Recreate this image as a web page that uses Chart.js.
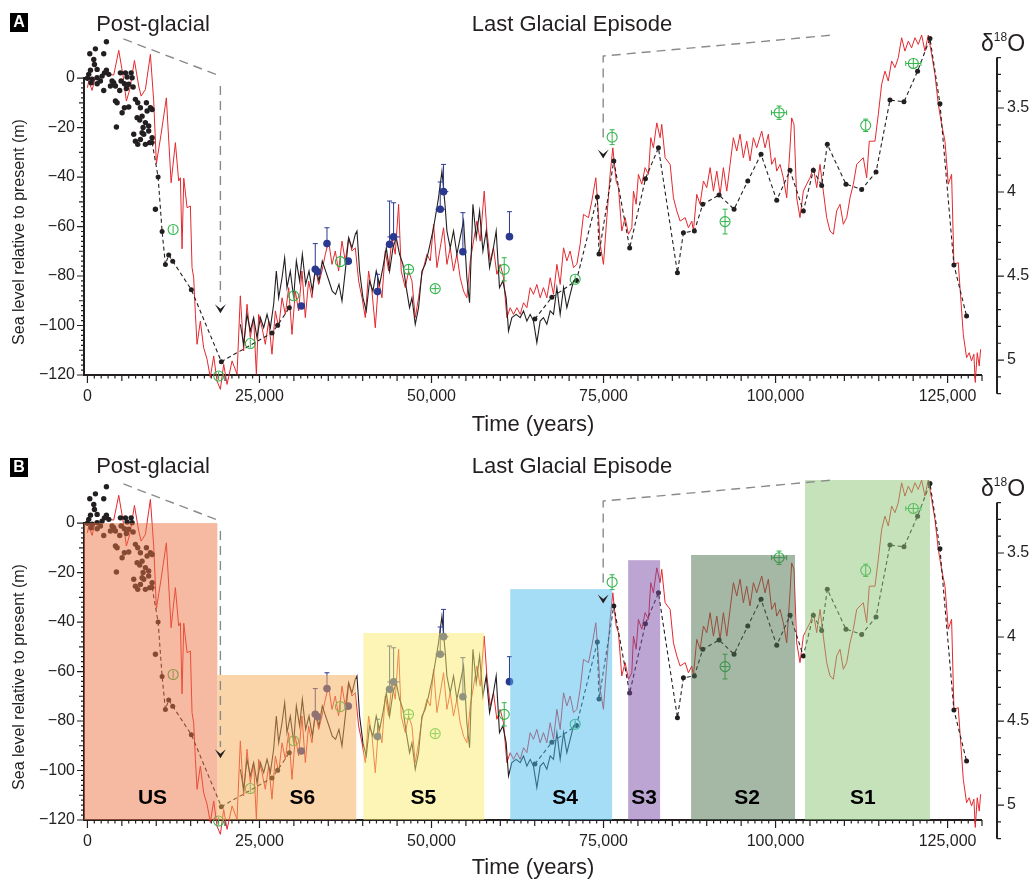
<!DOCTYPE html>
<html>
<head>
<meta charset="utf-8">
<script src="https://cdn.jsdelivr.net/npm/chart.js@4.4.0/dist/chart.umd.min.js"></script>
<style>
  body { margin: 0; background: #fff; width: 1035px; height: 881px; overflow: hidden; position: relative; }
  #wrapA { position: absolute; left: 0; top: 0; }
  #wrapB { position: absolute; left: 0; top: 445px; }
</style>
</head>
<body>
<div id="wrapA"><canvas id="chartA" width="1035" height="440"></canvas></div>
<div id="wrapB"><canvas id="chartB" width="1035" height="436"></canvas></div>
<script>
// red sea-level curve (years before present, metres)
const redYears = [
  0,190,680,1160,1640,2130,2470,3100,3820,4550,
  5180,5660,6150,6830,7450,7800,8420,9150,9630,10020,
  10700,11470,12160,12780,13260,13510,13750,14000,14480,14960,
  15200,15440,15690,15930,16410,16890,17380,17860,18350,18830,
  19320,19800,20290,21020,21740,22220,22700,23190,23670,24150,
  24550,24880,25370,25850,26340,26820,27310,27790,28280,28760,
  29240,29730,30210,30690,31180,31660,32140,32630,33110,33600,
  34080,34570,35050,35540,36020,36500,36990,37470,37960,38440,
  38930,39410,39900,40380,40860,41350,41830,42310,42800,43280,
  43770,44250,44730,45220,45600,46190,46670,47160,47640,48120,
  48610,49340,49820,50300,50790,51270,51750,52240,52720,53200,
  53690,54170,54660,55140,55630,56110,56600,57080,57660,58050,
  58530,59010,59500,59980,60470,60950,61440,61920,62410,62890,
  63370,63860,64340,64820,65310,65790,66270,66760,67250,67730,
  68220,68700,69190,69670,70150,70640,71120,71600,72090,72810,
  73300,73880,74260,74510,74990,75480,75960,76350,76830,77170,
  77650,78140,78620,79110,79350,79740,80070,80560,81040,81530,
  81870,82250,82740,83220,83460,83950,84680,85160,85650,86130,
  86860,87340,87830,88060,88550,89030,89520,90000,90490,90970,
  91460,91940,92420,92910,93390,93870,94360,94840,95320,95810,
  96290,96780,97260,97990,98470,98950,99440,99920,100170,100650,
  101130,101620,102100,102340,102680,103070,103550,104040,104520,105010,
  105490,105980,106460,106940,107430,107910,108400,108880,109370,109850,
  110340,110820,111300,111790,112270,112750,113240,113620,114450,114930,
  115420,115900,116380,116870,117350,117830,118320,118800,119290,119770,
  120260,120740,121230,121710,122190,122680,123160,123650,124130,124620,
  125100,125580,125920,126550,127280,127760,128140,128480,128820,129020,
  129310,129600,129800
];
const redLevels = [
  -3.9,-1.2,-5,0.8,-0.5,0.8,2.1,1.5,1.2,11.2,
  0.8,-9.3,-4.6,7.1,-3.2,-7.3,-4.6,9.6,-9.3,-34.6,
  -22.7,-8,-42.3,-26.1,-41.6,-40.3,-69,-40.5,-52.4,-51.7,
  -76.6,-80.7,-95.5,-107.6,-98.2,-109,-113.6,-121,-112.3,-122.4,
  -125.8,-115.7,-123.8,-114.3,-119.7,-88,-110.3,-91.4,-104.9,-96.8,
  -119.7,-95.5,-100.9,-107.6,-98.2,-111.6,-94.1,-100.9,-88.8,-95.5,
  -84.7,-103.6,-86.1,-94.1,-78,-96.8,-82,-88.8,-76.6,-83.4,
  -78,-71.2,-65.9,-75.3,-69.9,-78,-65.9,-73.9,-64.5,-69.9,
  -68.6,-82,-88.8,-96.8,-78,-86.1,-100.9,-82,-88.8,-69.9,
  -78,-64.5,-71.2,-51,-78,-84.7,-78,-82,-96.8,-88.8,
  -79.3,-71.2,-73.9,-59.1,-76.6,-68.6,-60.5,-75.3,-68.6,-78,
  -71.2,-80.7,-86.1,-88.8,-73.9,-65.9,-57.8,-65.9,-45.7,-61.8,
  -73.9,-68.6,-79.3,-75.3,-80.7,-96.8,-92.8,-95.5,-92.8,-95.5,
  -90.8,-92.8,-84.7,-87.4,-83.4,-88.8,-84.7,-88.8,-80.7,-87.4,
  -75.3,-83.4,-68.6,-73.9,-69.9,-76.6,-75.3,-67.2,-55.1,-56.4,
  -49.7,-40.3,-55.1,-67.2,-75.3,-56.4,-38.9,-28.2,-41.6,-44.3,
  -61.8,-56.4,-63.1,-60.5,-45.7,-51,-38.9,-42.9,-36.2,-38.9,
  -24.1,-28.2,-18.1,-24.1,-18.7,-32.2,-34.9,-48.4,-53.7,-57.8,
  -56.4,-60.5,-57.8,-61.8,-47,-51,-41.6,-44.3,-36.2,-45.7,
  -37.6,-47,-36.2,-45.7,-34.9,-24.1,-29.5,-22.7,-32.2,-25.5,
  -33.5,-24.1,-28.2,-21.4,-28.2,-22.7,-34.9,-32.2,-37.6,-34.9,
  -40.3,-48.4,-28.2,-16.1,-18.7,-48.4,-56.4,-45.7,-42.9,-40.3,
  -36.2,-44.3,-34.9,-45.7,-56.4,-61.8,-63.1,-53.7,-51,-59.1,
  -56.4,-48.4,-42.9,-34.9,-33.5,-32.2,-40.3,-25.5,-25.5,-14.7,
  -2.5,2.8,-1.2,6.9,4.2,8.2,16.3,10.9,14.9,12.2,
  16.3,13.6,17.4,10.9,17.4,9.6,1.5,-10.6,-18.7,-25.5,
  -42.9,-38.9,-75.3,-74.6,-103.6,-113,-111,-114.3,-111.6,-123,
  -111,-116.4,-109.6
];

// black sea-level curve
const blackYears = [
  22220,22700,23190,23670,24150,24640,25130,25610,26100,26580,
  27060,27450,27790,28280,28660,29000,29480,29970,30360,30840,
  31230,31710,32200,32680,33160,33650,34130,34620,35100,35580,
  36060,36550,36990,37470,37960,38440,38930,39170,39550,40040,
  40520,41000,41490,41970,42460,42940,43430,43910,44400,44880,
  45360,45850,46330,46810,47160,47640,48120,48610,49090,49570,
  50300,51020,51520,52000,52240,52720,53200,53690,54170,54660,
  55140,55530,56020,56500,56990,57470,57950,58440,58920,59400,
  59880,60370,60850,61190,61680,62310,62890,63370,63860,64340,
  64820,65310,65790,66270,66760,67250,67730,68220,68700,69190,
  69670,70150,70640,71120
];
const blackLevels = [
  -99.5,-107.6,-95.5,-102.2,-96.8,-104.9,-96.8,-100.9,-95.5,-100.9,
  -91.4,-78,-88.8,-80.7,-72.6,-84.7,-78,-88.8,-73.9,-82,
  -71.2,-83.4,-78,-86.1,-76.6,-82,-73.9,-78,-82,-86.1,
  -87.4,-83.4,-90.1,-78,-64.5,-68.6,-63.1,-61.8,-78,-88.8,
  -94.1,-82,-86.1,-78,-83.4,-76.6,-68.6,-78,-68.6,-64.5,
  -71.2,-75.3,-84.7,-92.8,-88.8,-99.5,-92.8,-78,-75.3,-69.9,
  -60.5,-48.4,-37.6,-52.4,-61.8,-68.6,-61.8,-71.2,-64.5,-57.8,
  -80.7,-90.8,-51,-64.5,-53.7,-69.9,-61.8,-76.6,-69.9,-61.8,
  -84.7,-82,-88.8,-102.2,-96.8,-95.5,-96.8,-94.1,-98.2,-95.5,
  -98.2,-106.9,-98.2,-96.8,-99.5,-94.1,-95.5,-84.7,-95.5,-84.7,
  -92.8,-87.4,-82,-81.3
];

// dotted record joined by a dashed line (null = gap)
const dashYears = [
  9400,10270,10850,11330,11810,12390,15100,19460,26820,27640,
  29340,45000,65020,67490,71070,74100,74340,76490,78800,81090,
  82980,85740,86610,88200,89420,91790,93970,95960,97890,100170,
  102100,104040,105490,106700,107520,110230,112510,114600,116630,118660,
  120640,122440,123890,125920,127760
];
const dashLevels = [
  -26,-40,-62,-75.3,-71.5,-74,-85.5,-114.6,-103,-99.9,
  -92.8,null,-97.4,-88.6,-81.8,-48.1,-71.1,-33.5,-68.7,-40.7,
  -28.2,-78.7,-62.5,-61.8,-51,-47.3,-53,-41.6,-30.8,-49.4,
  -37.3,-53.7,-37.3,-43.4,-26.8,-42.9,-45,-38,-8.9,-9.6,
  2.8,16,-10.4,-75.5,-96.2
];

// post-glacial scatter
const coralYears = [
  2760,1160,340,2370,920,1020,440,1410,2760,2470,
  190,0,680,1410,1890,2130,3100,530,1410,2370,
  3580,3820,4070,3340,4790,5520,6350,5760,6490,4890,
  5370,4690,6000,5660,6640,4070,4310,5040,5370,6000,
  6970,7310,7700,8570,9150,9400,8670,7940,7220,8420,
  7600,8090,8900,8900,6730,6970,7310,7700,7940,8420,
  9050,9400,8180,4210,9880
];
const coralLevels = [
  14.7,11.8,9.8,9.8,7.5,5.5,3.2,3.5,3.2,2.1,
  1.5,-0.1,-0.5,0.1,-1.2,0.8,1.5,-1.9,-2.3,-5,
  -1.2,-1.9,-3.2,-3.2,2.1,2.1,2.1,0.4,0.1,-1.2,
  -2.3,-5,-2.5,-4.2,-3.6,-9.3,-10,-14,-12,-11.7,
  -8.6,-10,-12,-10,-12,-12.7,-13.3,-15.4,-16,-18,
  -17,-20,-19.4,-21.4,-22.7,-25.5,-26.8,-24.8,-22.1,-26.8,
  -26.1,-24.1,-22.7,-19.8,-53
];

// blue points with upward error bars
const blueYears = [31080,33110,33450,34810,37900,42160,43910,44490,51270,51750,54560,61330];
const blueLevels = [-92.1,-77.3,-78.3,-66.9,-74,-86.3,-67.2,-64.2,-53,-45.9,-70.2,-64.1];
const blueErrUp = [0,10.4,0,6.4,0,7,17.5,13.8,11,11,15.8,10.1];
const blueErrX = [0,0,0,0,0,0,0,900,700,700,0,0];

// green open circles with error crosses
const greenYears = [12450,19070,23670,29970,36750,46670,50540,60570,70880,76250,92660,100510,113100,120020];
const greenLevels = [-61.2,-120.4,-107.3,-88,-74.2,-77.3,-85.1,-77.3,-81.3,-23.9,-58,-14,-19.1,5.9];
const greenErrY = [1.2,1.5,1.5,1.5,1.5,2,1.5,4.7,1.5,3,5,2.7,2.5,2.2];
const greenErrX = [0,0,0,0,0,500,500,0,0,0,300,1100,0,1100];

// stages (panel B)
const stageNames = ['US','S6','S5','S4','S3','S2','S1'];
const stageStart = [-500,18880,40090,61440,78580,87720,104280];
const stageEnd = [18880,39070,57660,76250,83220,102830,122440];
const stageTop = [0,-61.4,-44.4,-26.7,-15,-12.9,17.4];
const stageLabelYears = [9450,31230,48800,69400,80900,95860,112700];

// axes
const xTicks = [0,25000,50000,75000,100000,125000];
const yTicks = [-120,-100,-80,-60,-40,-20,0];
const d18Ticks = [3.5,4,4.5,5];

const FONT = '"Liberation Sans", Arial, sans-serif';
const INK = '#231f20';
const RED = '#e4282e';
const BLUE = '#2b3990';
const GREEN = '#2fb44a';
const GREY = '#8a8a8a';
const stageColors = ['rgba(237,115,67,0.5)','rgba(247,171,85,0.5)','rgba(249,235,107,0.5)',
  'rgba(75,185,237,0.5)','rgba(121,75,165,0.5)','rgba(75,113,75,0.5)','rgba(139,197,119,0.5)'];

const connectors = [
  [[5230, 15.8], [19320, 0.8]],
  [[19320, -3.2], [19320, -90.5]],
  [[74950, -24], [74950, 8.9], [108350, 17.4]]
];
const arrowTips = [[19320, -95], [74950, -32.5]];

function xy(xs, ys) {
  return xs.map((x, i) => ({ x: x, y: ys[i] }));
}

const decor = {
  id: 'decor',
  beforeDatasetsDraw(chart) {
    const { ctx, chartArea: a, scales: { x, y, y2 } } = chart;
    ctx.save();
    ctx.strokeStyle = INK;
    ctx.lineWidth = 1.2;
    ctx.beginPath();
    for (let v = 0; v <= 130000; v += 1000) {
      const px = x.getPixelForValue(v);
      const len = v % 25000 === 0 ? 8 : v % 5000 === 0 ? 6 : 3.5;
      ctx.moveTo(px, a.bottom);
      ctx.lineTo(px, a.bottom + len);
    }
    for (let v = 0; v >= -120; v -= 2) {
      const py = y.getPixelForValue(v);
      const len = v % 20 === 0 ? 7 : v % 10 === 0 ? 5 : 3;
      ctx.moveTo(a.left, py);
      ctx.lineTo(a.left - len, py);
    }
    const rx = a.right + 15;
    for (let k = 32; k <= 52; k++) {
      const py = y2.getPixelForValue(k / 10);
      const len = k % 5 === 0 ? 7 : 4;
      ctx.moveTo(rx, py);
      ctx.lineTo(rx + len, py);
    }
    ctx.stroke();
    ctx.lineWidth = 2;
    ctx.beginPath();
    ctx.moveTo(a.left - 1, a.bottom);
    ctx.lineTo(x.getPixelForValue(130000), a.bottom);
    ctx.moveTo(a.left, y.getPixelForValue(0) - 1);
    ctx.lineTo(a.left, a.bottom);
    ctx.moveTo(rx, y2.getPixelForValue(3.2));
    ctx.lineTo(rx, y2.getPixelForValue(5.2));
    ctx.stroke();
    ctx.restore();
  },
  afterDatasetsDraw(chart, args, opts) {
    const { ctx, scales: { x, y } } = chart;
    ctx.save();
    // blue error bars
    ctx.strokeStyle = BLUE;
    ctx.lineWidth = 1;
    ctx.beginPath();
    blueYears.forEach((yr, i) => {
      const px = x.getPixelForValue(yr), py = y.getPixelForValue(blueLevels[i]);
      if (blueErrUp[i]) {
        const top = y.getPixelForValue(blueLevels[i] + blueErrUp[i]);
        ctx.moveTo(px, py); ctx.lineTo(px, top);
        ctx.moveTo(px - 2.5, top); ctx.lineTo(px + 2.5, top);
      }
      if (blueErrX[i]) {
        ctx.moveTo(x.getPixelForValue(yr - blueErrX[i]), py);
        ctx.lineTo(x.getPixelForValue(yr + blueErrX[i]), py);
      }
    });
    ctx.stroke();
    // green error crosses
    ctx.strokeStyle = GREEN;
    ctx.beginPath();
    greenYears.forEach((yr, i) => {
      const px = x.getPixelForValue(yr), py = y.getPixelForValue(greenLevels[i]);
      const ey = Math.max(py - y.getPixelForValue(greenLevels[i] + greenErrY[i]), 4);
      ctx.moveTo(px, py - ey); ctx.lineTo(px, py + ey);
      if (ey > 5.5) {
        ctx.moveTo(px - 2.5, py - ey); ctx.lineTo(px + 2.5, py - ey);
        ctx.moveTo(px - 2.5, py + ey); ctx.lineTo(px + 2.5, py + ey);
      }
      if (greenErrX[i]) {
        const ex = Math.max(x.getPixelForValue(yr + greenErrX[i]) - px, 4);
        ctx.moveTo(px - ex, py); ctx.lineTo(px + ex, py);
        if (ex > 5.5) {
          ctx.moveTo(px - ex, py - 2.5); ctx.lineTo(px - ex, py + 2.5);
          ctx.moveTo(px + ex, py - 2.5); ctx.lineTo(px + ex, py + 2.5);
        }
      }
    });
    ctx.stroke();

    if (opts.stages) {
      const b = y.getPixelForValue(-120);
      stageNames.forEach((name, i) => {
        const l = x.getPixelForValue(stageStart[i]);
        const r = x.getPixelForValue(stageEnd[i]);
        const t = y.getPixelForValue(stageTop[i]);
        ctx.fillStyle = stageColors[i];
        ctx.fillRect(l, t, r - l, b - t);
      });
      ctx.fillStyle = '#000';
      ctx.font = 'bold 21px ' + FONT;
      ctx.textAlign = 'center';
      ctx.textBaseline = 'middle';
      stageNames.forEach((name, i) => {
        ctx.fillText(name, x.getPixelForValue(stageLabelYears[i]), y.getPixelForValue(-111));
      });
    }

    // connectors from the panel titles
    ctx.strokeStyle = GREY;
    ctx.lineWidth = 1.4;
    ctx.setLineDash([9, 6]);
    connectors.forEach(path => {
      ctx.beginPath();
      path.forEach(([yr, m], j) => {
        const px = x.getPixelForValue(yr), py = y.getPixelForValue(m);
        if (j) ctx.lineTo(px, py); else ctx.moveTo(px, py);
      });
      ctx.stroke();
    });
    ctx.setLineDash([]);
    ctx.fillStyle = INK;
    arrowTips.forEach(([yr, m]) => {
      const px = x.getPixelForValue(yr), py = y.getPixelForValue(m);
      ctx.beginPath();
      ctx.moveTo(px - 5.5, py - 9);
      ctx.lineTo(px, py);
      ctx.lineTo(px + 5.5, py - 9);
      ctx.lineTo(px, py - 4.5);
      ctx.closePath();
      ctx.fill();
    });
    ctx.restore();
  },
  afterDraw(chart, args, opts) {
    const { ctx } = chart;
    ctx.save();
    ctx.fillStyle = '#000';
    ctx.fillRect(10, 13, 18, 19);
    ctx.fillStyle = '#fff';
    ctx.font = 'bold 16px ' + FONT;
    ctx.textAlign = 'center';
    ctx.textBaseline = 'middle';
    ctx.fillText(opts.letter, 19, 23);

    ctx.fillStyle = INK;
    ctx.font = '22px ' + FONT;
    ctx.textBaseline = 'alphabetic';
    ctx.fillText('Post-glacial', 153, opts.titleY);
    ctx.fillText('Last Glacial Episode', 572, opts.titleY);

    ctx.save();
    ctx.translate(20, 232);
    ctx.rotate(-Math.PI / 2);
    ctx.font = '16px ' + FONT;
    ctx.textBaseline = 'middle';
    ctx.fillText('Sea level relative to present (m)', 0, 0);
    ctx.restore();

    ctx.textAlign = 'left';
    ctx.font = '23px ' + FONT;
    ctx.fillText('δ', 981, 51);
    let w = ctx.measureText('δ').width;
    ctx.font = '12px ' + FONT;
    ctx.fillText('18', 981 + w, 41);
    w += ctx.measureText('18').width;
    ctx.font = '23px ' + FONT;
    ctx.fillText('O', 981 + w, 51);
    ctx.restore();
  }
};

function makeChart(canvasId, letter, withStages, xAxisHeight, titlePad, titleY) {
  return new Chart(document.getElementById(canvasId), {
    type: 'scatter',
    data: {
      datasets: [
        { data: xy(greenYears, greenLevels), pointRadius: 5, pointBorderWidth: 1.1, pointBorderColor: GREEN,
          pointBackgroundColor: 'rgba(0,0,0,0)', order: 0, clip: false },
        { data: xy(blueYears, blueLevels), pointRadius: 3.8, pointBackgroundColor: BLUE, pointBorderWidth: 0,
          order: 1, clip: false },
        { data: xy(coralYears, coralLevels), pointRadius: 2.7, pointBackgroundColor: INK, pointBorderWidth: 0,
          order: 2, clip: false },
        { data: xy(dashYears, dashLevels), showLine: true, borderDash: [4, 3], borderColor: INK, borderWidth: 1.1,
          pointRadius: 2.5, pointBackgroundColor: INK, pointBorderWidth: 0, spanGaps: false, order: 3, clip: false },
        { data: xy(blackYears, blackLevels), showLine: true, borderColor: INK, borderWidth: 1.1, pointRadius: 0,
          order: 4, clip: false },
        { data: xy(redYears, redLevels), showLine: true, borderColor: RED, borderWidth: 1, pointRadius: 0,
          order: 5, clip: false }
      ]
    },
    options: {
      responsive: false,
      animation: false,
      devicePixelRatio: 1,
      layout: { padding: { top: 35, left: 0, right: 0, bottom: 0 } },
      plugins: {
        legend: { display: false },
        tooltip: { enabled: false },
        decor: { letter: letter, stages: withStages, titleY: titleY }
      },
      scales: {
        x: {
          type: 'linear', min: -500, max: 130000,
          afterFit: s => { s.height = xAxisHeight; },
          afterBuildTicks: s => { s.ticks = xTicks.map(v => ({ value: v })); },
          grid: { display: false, drawTicks: false },
          border: { display: false },
          ticks: { padding: 12, color: INK, font: { family: FONT, size: 16 }, maxRotation: 0, autoSkip: false,
            callback: v => v.toLocaleString('en-US') },
          title: { display: true, text: 'Time (years)', color: INK, font: { family: FONT, size: 22 },
            padding: { top: 0, bottom: titlePad } }
        },
        y: {
          position: 'left', min: -120, max: 17.4,
          afterFit: s => { s.width = 84; },
          afterBuildTicks: s => { s.ticks = yTicks.map(v => ({ value: v })); },
          grid: { display: false, drawTicks: false },
          border: { display: false },
          ticks: { padding: 9, color: INK, font: { family: FONT, size: 16 },
            callback: v => String(v).replace('-', '\u2212') }
        },
        y2: {
          position: 'right', reverse: true, min: 3.0655, max: 5.089,
          afterFit: s => { s.width = 53; },
          afterBuildTicks: s => { s.ticks = d18Ticks.map(v => ({ value: v })); },
          grid: { display: false, drawTicks: false },
          border: { display: false },
          ticks: { padding: 25, color: INK, font: { family: FONT, size: 16 }, callback: v => String(v) }
        }
      }
    },
    plugins: [decor]
  });
}

makeChart('chartA', 'A', false, 65, 2, 31);
makeChart('chartB', 'B', true, 61, 0, 28);
</script>
</body>
</html>
